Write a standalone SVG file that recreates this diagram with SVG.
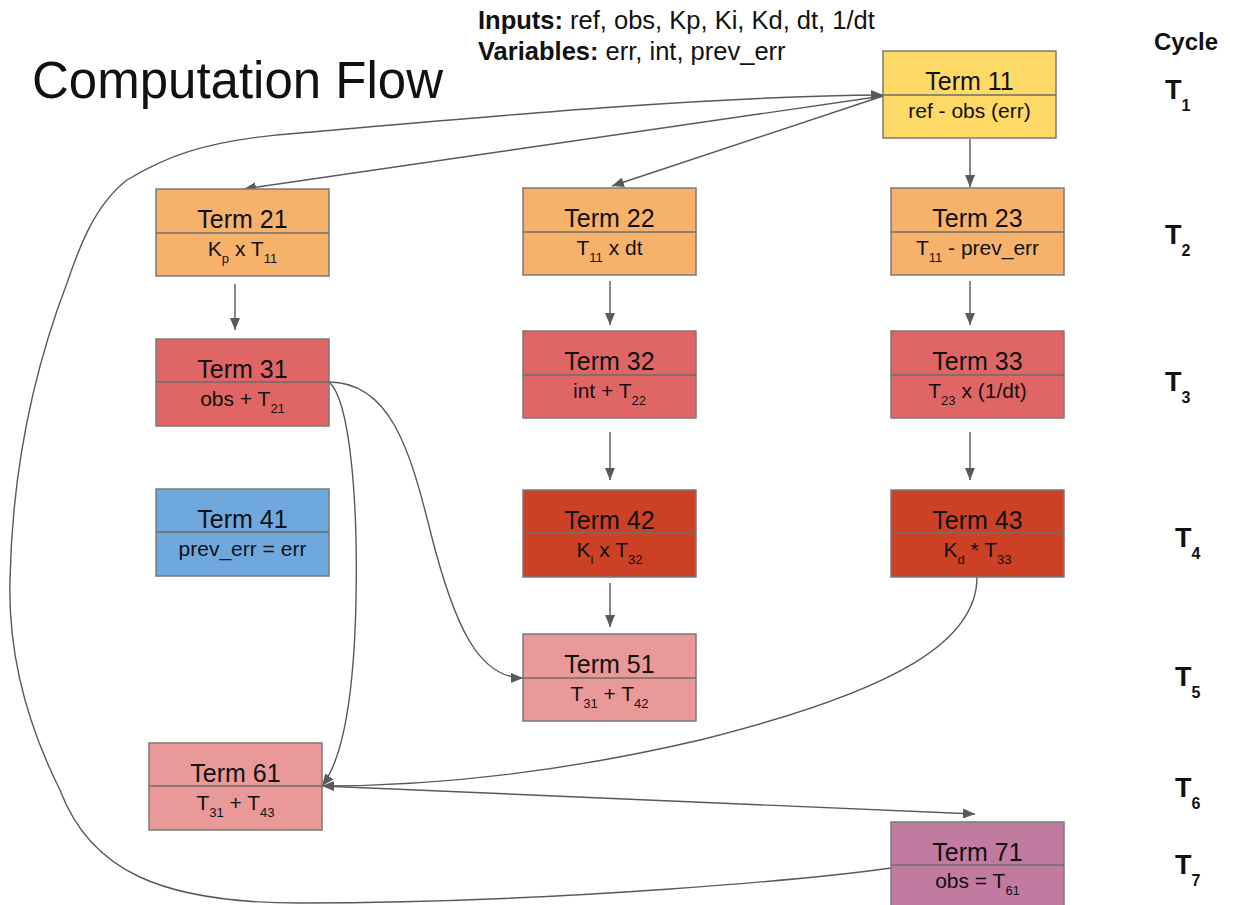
<svg xmlns="http://www.w3.org/2000/svg" width="1233" height="905" viewBox="0 0 1233 905">
<style>
  text { font-family: "Liberation Sans", Arial, sans-serif; fill: #111; }
  .box { stroke: #7a7a7a; stroke-width: 1.5; }
  .div { stroke: #6e6e6e; stroke-width: 1.5; }
  .t { font-size: 25px; text-anchor: middle; }
  .s { font-size: 21px; text-anchor: middle; }
  .sub { font-size: 13px; }
  .conn { fill: none; stroke: #595959; stroke-width: 1.4; }
  .cyc { font-size: 27px; font-weight: bold; }
  .cycs { font-size: 16px; font-weight: bold; }
  .yel { fill: #FFD966; } .org { fill: #F6B26B; } .red { fill: #E06666; }
  .blu { fill: #6FA8DC; } .dred { fill: #CC4125; } .pink { fill: #EA9999; } .mag { fill: #C27BA0; }
</style>
<defs>
  <marker id="ah" viewBox="0 0 12 10" refX="12" refY="5" markerWidth="12" markerHeight="10" markerUnits="userSpaceOnUse" orient="auto">
    <path d="M0,0 L12,5 L0,10 z" fill="#595959"/>
  </marker>
</defs>
<rect width="1233" height="905" fill="#ffffff"/>

<g id="title">
  <text x="32" y="98" font-size="51">Computation Flow</text>
</g>
<g id="header">
  <text x="478" y="29" font-size="25.5"><tspan font-weight="bold">Inputs:</tspan> ref, obs, Kp, Ki, Kd, dt, 1/dt</text>
  <text x="478" y="60" font-size="25.5"><tspan font-weight="bold">Variables:</tspan> err, int, prev_err</text>
</g>
<g id="cycles">
  <text x="1154" y="50" font-size="24" font-weight="bold">Cycle</text>
  <text x="1165" y="99" class="cyc">T<tspan class="cycs" dy="12">1</tspan></text>
  <text x="1165" y="244" class="cyc">T<tspan class="cycs" dy="12">2</tspan></text>
  <text x="1165" y="391" class="cyc">T<tspan class="cycs" dy="12">3</tspan></text>
  <text x="1175" y="547" class="cyc">T<tspan class="cycs" dy="12">4</tspan></text>
  <text x="1175" y="686" class="cyc">T<tspan class="cycs" dy="12">5</tspan></text>
  <text x="1175" y="797" class="cyc">T<tspan class="cycs" dy="12">6</tspan></text>
  <text x="1175" y="874" class="cyc">T<tspan class="cycs" dy="12">7</tspan></text>
</g>

<g id="connectors">
  <path class="conn" d="M970,139 L970,187" marker-end="url(#ah)"/>
  <path class="conn" d="M883,96 L612,186" marker-end="url(#ah)"/>
  <path class="conn" d="M883,96 L244,189" marker-end="url(#ah)"/>
  <path class="conn" d="M891,868 C820,878 560,903 300,903 C160,903 90,870 60,790 C25,720 8,650 10,580 C12,480 30,380 67,283 C80,245 95,205 127,180 C160,160 200,140 300,133 C450,120 700,96 883,95" marker-end="url(#ah)"/>
  <path class="conn" d="M235,284 L235,330" marker-end="url(#ah)"/>
  <path class="conn" d="M610,281 L610,325" marker-end="url(#ah)"/>
  <path class="conn" d="M970,281 L970,325" marker-end="url(#ah)"/>
  <path class="conn" d="M610,432 L610,480" marker-end="url(#ah)"/>
  <path class="conn" d="M970,432 L970,480" marker-end="url(#ah)"/>
  <path class="conn" d="M610,583 L610,627" marker-end="url(#ah)"/>
  <path class="conn" d="M329,382 C390,382 410,450 430,530 C455,630 480,678 523,678" marker-end="url(#ah)"/>
  <path class="conn" d="M329,382 C350,400 358,500 356,600 C354,700 342,760 322,786" marker-end="url(#ah)"/>
  <path class="conn" d="M977,577 C977,640 900,690 700,740 C550,775 420,786 322,786" marker-end="url(#ah)"/>
  <path class="conn" d="M322,786 L975,814" marker-end="url(#ah)"/>
</g>

<g id="term11">
  <rect class="box yel" x="883" y="51" width="173" height="87"/>
  <line class="div" x1="883" y1="95" x2="1056" y2="95"/>
  <text class="t" x="969.5" y="90">Term 11</text>
  <text class="s" x="969.5" y="118">ref - obs (err)</text>
</g>
<g id="term21">
  <rect class="box org" x="156" y="189" width="173" height="87"/>
  <line class="div" x1="156" y1="233" x2="329" y2="233"/>
  <text class="t" x="242.5" y="228">Term 21</text>
  <text class="s" x="242.5" y="256">K<tspan class="sub" dy="7">p</tspan><tspan dy="-7"> x T</tspan><tspan class="sub" dy="7">11</tspan></text>
</g>
<g id="term22">
  <rect class="box org" x="523" y="188" width="173" height="87"/>
  <line class="div" x1="523" y1="232" x2="696" y2="232"/>
  <text class="t" x="609.5" y="227">Term 22</text>
  <text class="s" x="609.5" y="255">T<tspan class="sub" dy="7">11</tspan><tspan dy="-7"> x dt</tspan></text>
</g>
<g id="term23">
  <rect class="box org" x="891" y="188" width="173" height="87"/>
  <line class="div" x1="891" y1="232" x2="1064" y2="232"/>
  <text class="t" x="977.5" y="227">Term 23</text>
  <text class="s" x="977.5" y="255">T<tspan class="sub" dy="7">11</tspan><tspan dy="-7"> - prev_err</tspan></text>
</g>
<g id="term31">
  <rect class="box red" x="156" y="339" width="173" height="87"/>
  <line class="div" x1="156" y1="382" x2="329" y2="382"/>
  <text class="t" x="242.5" y="378">Term 31</text>
  <text class="s" x="242.5" y="406">obs + T<tspan class="sub" dy="7">21</tspan></text>
</g>
<g id="term32">
  <rect class="box red" x="523" y="331" width="173" height="87"/>
  <line class="div" x1="523" y1="375" x2="696" y2="375"/>
  <text class="t" x="609.5" y="370">Term 32</text>
  <text class="s" x="609.5" y="398">int + T<tspan class="sub" dy="7">22</tspan></text>
</g>
<g id="term33">
  <rect class="box red" x="891" y="331" width="173" height="87"/>
  <line class="div" x1="891" y1="375" x2="1064" y2="375"/>
  <text class="t" x="977.5" y="370">Term 33</text>
  <text class="s" x="977.5" y="398">T<tspan class="sub" dy="7">23</tspan><tspan dy="-7"> x (1/dt)</tspan></text>
</g>
<g id="term41">
  <rect class="box blu" x="156" y="489" width="173" height="87"/>
  <line class="div" x1="156" y1="532" x2="329" y2="532"/>
  <text class="t" x="242.5" y="528">Term 41</text>
  <text class="s" x="242.5" y="556">prev_err = err</text>
</g>
<g id="term42">
  <rect class="box dred" x="523" y="490" width="173" height="87"/>
  <line class="div" x1="523" y1="533" x2="696" y2="533"/>
  <text class="t" x="609.5" y="529">Term 42</text>
  <text class="s" x="609.5" y="557">K<tspan class="sub" dy="7">i</tspan><tspan dy="-7"> x T</tspan><tspan class="sub" dy="7">32</tspan></text>
</g>
<g id="term43">
  <rect class="box dred" x="891" y="490" width="173" height="87"/>
  <line class="div" x1="891" y1="533" x2="1064" y2="533"/>
  <text class="t" x="977.5" y="529">Term 43</text>
  <text class="s" x="977.5" y="557">K<tspan class="sub" dy="7">d</tspan><tspan dy="-7"> * T</tspan><tspan class="sub" dy="7">33</tspan></text>
</g>
<g id="term51">
  <rect class="box pink" x="523" y="634" width="173" height="87"/>
  <line class="div" x1="523" y1="678" x2="696" y2="678"/>
  <text class="t" x="609.5" y="673">Term 51</text>
  <text class="s" x="609.5" y="701">T<tspan class="sub" dy="7">31</tspan><tspan dy="-7"> + T</tspan><tspan class="sub" dy="7">42</tspan></text>
</g>
<g id="term61">
  <rect class="box pink" x="149" y="743" width="173" height="87"/>
  <line class="div" x1="149" y1="786" x2="322" y2="786"/>
  <text class="t" x="235.5" y="782">Term 61</text>
  <text class="s" x="235.5" y="810">T<tspan class="sub" dy="7">31</tspan><tspan dy="-7"> + T</tspan><tspan class="sub" dy="7">43</tspan></text>
</g>
<g id="term71">
  <rect class="box mag" x="891" y="822" width="173" height="95"/>
  <line class="div" x1="891" y1="865" x2="1064" y2="865"/>
  <text class="t" x="977.5" y="861">Term 71</text>
  <text class="s" x="977.5" y="888">obs = T<tspan class="sub" dy="7">61</tspan></text>
</g>
</svg>
